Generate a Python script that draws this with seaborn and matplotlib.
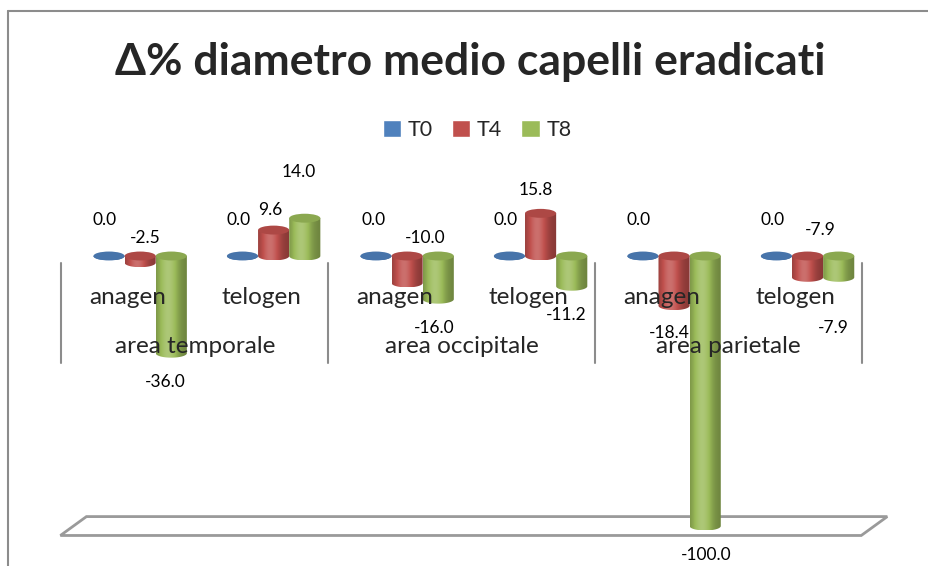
import numpy as np
import pandas as pd
import matplotlib
matplotlib.use("Agg")
import matplotlib.pyplot as plt
import matplotlib.transforms as mtransforms
import seaborn as sns
from matplotlib.patches import Ellipse, Polygon
from matplotlib.lines import Line2D
from matplotlib.colors import to_rgb

# ---- data -------------------------------------------------------------
areas = ["area temporale", "area occipitale", "area parietale"]
phases = ["anagen", "telogen"]
series = ["T0", "T4", "T8"]
t0 = [0.0, 0.0, 0.0, 0.0, 0.0, 0.0]
t4 = [-2.5, 9.6, -10.0, 15.8, -18.4, -7.9]
t8 = [-36.0, 14.0, -16.0, -11.2, -100.0, -7.9]
value_floor = -100.0
title = "Δ% diametro medio capelli eradicati"

colors = ["#4F81BD", "#C0504D", "#9BBB59"]

# label offsets in pixels from (bar centre, bar value); one row per category, one column per series
label_dx = [[-4, 5, -6], [-4, -3, -6], [-2, 18, -4], [-4, -5, -6], [-4, -5, 1], [-4, 13, -5]]
label_dy = [[36, 25, -29], [36, 20, 46], [36, 45, -29], [36, 23, -29], [36, -27, -29], [36, 47, -51]]

categories = [f"{a} | {p}" for a in areas for p in phases]
df = pd.DataFrame({
    "categoria": categories * len(series),
    "serie": np.repeat(series, len(categories)),
    "valore": t0 + t4 + t8,
})

# ---- figure -----------------------------------------------------------
sns.set_theme(style="white")
plt.rcParams["font.family"] = ["Lato", "DejaVu Sans"]

fig = plt.figure(figsize=(9.29, 5.66), dpi=100)
ax = fig.add_axes([0, 0, 1, 1])

sns.barplot(data=df, x="categoria", y="valore", hue="serie", order=categories,
            hue_order=series, palette=colors, width=0.7, saturation=1,
            errorbar=None, ax=ax)


def shade(rgb, f):
    rgb = np.asarray(rgb, dtype=float)
    if f >= 1:
        return np.clip(rgb + (1 - rgb) * (f - 1), 0, 1)
    return np.clip(rgb * f, 0, 1)


# horizontal lighting profile of a cylinder
t = np.linspace(0, 1, 80)
profile = 0.70 + 0.48 * np.exp(-((t - 0.38) / 0.32) ** 2)
cap_h = 3.3  # height of the elliptic caps, in value units

for si, cont in enumerate(ax.containers):
    base = to_rgb(colors[si])
    img = np.array([[shade(base, f) for f in profile]])
    z = 2 + si * 0.1
    for bar in cont:
        x0, w = bar.get_x(), bar.get_width()
        y0, h = bar.get_y(), bar.get_height()
        lo, hi = min(y0, y0 + h), max(y0, y0 + h)
        cx = x0 + w / 2
        bar.set_facecolor("none")
        bar.set_edgecolor("none")
        theta = np.linspace(np.pi, 2 * np.pi, 60)
        arc = np.column_stack([cx + w / 2 * np.cos(theta), lo + cap_h / 2 * np.sin(theta)])
        body = Polygon(np.vstack([arc, [[x0 + w, hi], [x0, hi]]]), closed=True,
                       facecolor="none", edgecolor="none")
        ax.add_patch(body)
        im = ax.imshow(img, extent=[x0, x0 + w, lo - cap_h / 2, hi], aspect="auto",
                       zorder=z, interpolation="bilinear")
        im.set_clip_path(body)
        ax.add_patch(Ellipse((cx, hi), w, cap_h, facecolor=shade(base, 0.9),
                             edgecolor="none", zorder=z + 0.01))

# value labels
for si, vals in enumerate([t0, t4, t8]):
    for ci, v in enumerate(vals):
        bar = ax.containers[si][ci]
        cx = bar.get_x() + bar.get_width() / 2
        ax.annotate(f"{v:.1f}", xy=(cx, v), xytext=(label_dx[ci][si], label_dy[ci][si]),
                    textcoords="offset pixels", ha="center", va="center",
                    fontsize=12.5, color="black", zorder=6)

# category axis drawn in perspective
shift = -0.09
blend = mtransforms.blended_transform_factory(ax.transData, ax.transAxes)
for ci in range(len(categories)):
    ax.text(ci + shift, 0.4735, phases[ci % 2], transform=blend, ha="center",
            va="center", fontsize=17.5, zorder=6)
for gi, area in enumerate(areas):
    ax.text(2 * gi + 0.5 + shift, 0.387, area, transform=blend, ha="center",
            va="center", fontsize=17.5, zorder=6)
for k in range(len(areas) + 1):
    ax.plot([2 * k - 0.5 + shift] * 2, [0.359, 0.535], transform=blend,
            color="#8c8c8c", lw=1.5, zorder=1)

# floor of the 3D plot
skew, depth = 0.0975, 3.5
left, right = -0.5, len(categories) - 0.5
floor = Polygon([[left - skew, value_floor - depth], [left + skew, value_floor + depth],
                 [right + skew, value_floor + depth], [right - skew, value_floor - depth]],
                closed=True, facecolor="white", edgecolor="#9a9a9a", lw=2, zorder=1)
ax.add_patch(floor)

ax.set_xlim(-1.05, 5.91)
ax.set_ylim(-114.8, 94.8)
ax.axis("off")

sns.move_legend(ax, "center", bbox_to_anchor=(477 / 929, 1 - 130 / 566),
                bbox_transform=fig.transFigure, ncol=3, frameon=False, title=None,
                handlelength=0.85, handleheight=0.85, handletextpad=0.3,
                columnspacing=0.9, fontsize=15.5)

fig.text(0.506, 0.890, title, ha="center", va="center", fontsize=32,
         fontweight="bold")

# chart area frame
fig.add_artist(Line2D([8 / 929, 8 / 929], [0, 1 - 11 / 566], transform=fig.transFigure,
                      color="#8c8c8c", lw=1.5))
fig.add_artist(Line2D([8 / 929, 1], [1 - 11 / 566, 1 - 11 / 566],
                      transform=fig.transFigure, color="#8c8c8c", lw=1.5))

fig.savefig("out.png", dpi=100)
